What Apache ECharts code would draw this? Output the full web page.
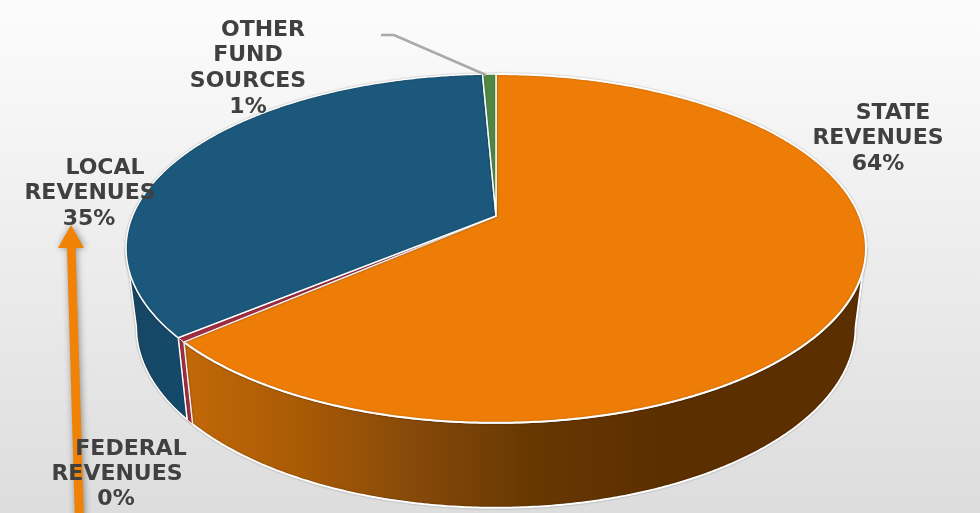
<!DOCTYPE html>
<html>
<head>
<meta charset="utf-8">
<style>html,body{margin:0;padding:0;background:#eee}#chart{width:980px;height:513px}</style>
<script src="https://cdn.jsdelivr.net/npm/echarts@6/dist/echarts.min.js"></script>
</head>
<body>
<div id="chart"></div>
<script>
// Funding sources, percent of total
const categories = ['STATE REVENUES', 'FEDERAL REVENUES', 'LOCAL REVENUES', 'OTHER FUND SOURCES'];
const shares = [63.6, 0.4, 35.3, 0.7];
const topColors = ['#ed7d06', '#a52f42', '#1b587b', '#4f8743'];
const edgeWidths = [2, 1, 1.5, 1.5];

// Label line centres, one row per line of text
const labelRows = [
  [[893, 113], [878, 138], [878, 164]],
  [[131, 449], [117, 474], [116, 499]],
  [[105, 168], [90, 193], [89, 219]],
  [[263, 30], [248, 55], [248, 81], [248, 107]]
];

// Perspective projection of the tilted disc
const CX = 496, APEX_Y = 216, DX = 363.5, DY = 128.2, PERSP = -0.186;
const BOTTOM_SCALE = 0.972, DEPTH = 82, DEPTH_GROW = 0.036;
// Widest points of the disc: the wall is only visible between them
const WALL_FROM = 100.7, WALL_TO = 259.3;

function rim(deg) {
  const t = deg * Math.PI / 180, u = Math.sin(t), v = -Math.cos(t), w = 1 + PERSP * v;
  return [CX + DX * u / w, (DY * v + APEX_Y) / w];
}
function lower(p) {
  return [CX + (p[0] - CX) * BOTTOM_SCALE, p[1] + DEPTH + DEPTH_GROW * (p[1] - 340)];
}
function arc(a0, a1) {
  const pts = [];
  const n = Math.max(2, Math.ceil((a1 - a0) / 0.5));
  for (let i = 0; i <= n; i++) pts.push(rim(a0 + (a1 - a0) * i / n));
  return pts;
}
function sliceRange(i) {
  const total = shares.reduce((a, b) => a + b, 0);
  const before = shares.slice(0, i).reduce((a, b) => a + b, 0);
  return [before / total * 360, (before + shares[i]) / total * 360];
}

const G = echarts.graphic;
const sideFills = [
  new G.LinearGradient(185, 0, 660, 0, [
    { offset: 0, color: '#c26808' }, { offset: 0.25, color: '#a85a05' },
    { offset: 0.5, color: '#84480a' }, { offset: 0.72, color: '#683802' },
    { offset: 1, color: '#5c2f00' }], true),
  '#a52f42',
  new G.LinearGradient(130, 0, 190, 0, [
    { offset: 0, color: '#174663' }, { offset: 1, color: '#144a6c' }], true),
  '#3a6632'
];

function sideItem(params, api) {
  const i = api.value(0);
  const r = sliceRange(i);
  const from = Math.max(r[0], WALL_FROM), to = Math.min(r[1], WALL_TO);
  if (to <= from) return null;
  const top = arc(from, to);
  const bottom = top.map(lower).reverse();
  return {
    type: 'polygon',
    shape: { points: top.concat(bottom) },
    style: {
      fill: sideFills[i], stroke: '#fff', lineWidth: edgeWidths[i], lineJoin: 'round',
      shadowBlur: 2, shadowColor: 'rgba(0,0,0,0.3)'
    }
  };
}
function topItem(params, api) {
  const i = api.value(0);
  const r = sliceRange(i);
  return {
    type: 'polygon',
    shape: { points: [[CX, APEX_Y]].concat(arc(r[0], r[1])) },
    style: {
      fill: topColors[i], stroke: '#fff', lineWidth: edgeWidths[i], lineJoin: 'round',
      shadowBlur: 2, shadowColor: 'rgba(0,0,0,0.25)'
    }
  };
}
function labelItem(params, api) {
  const i = api.value(0);
  const words = categories[i].split(' ');
  const lines = words.concat([Math.round(shares[i]) + '%']);
  return {
    type: 'group',
    children: lines.map((s, k) => ({
      type: 'text',
      x: labelRows[i][k][0],
      y: labelRows[i][k][1],
      style: {
        text: s, align: 'center', verticalAlign: 'middle',
        font: 'bold 22px "DejaVu Sans"', fill: '#404040'
      }
    }))
  };
}

const indexData = categories.map((c, i) => [i]);
const chart = echarts.init(document.getElementById('chart'), null, { renderer: 'canvas' });
chart.setOption({
  animation: false,
  backgroundColor: new G.LinearGradient(0, 0, 0, 1, [
    { offset: 0, color: '#fcfcfc' }, { offset: 1, color: '#dddddd' }]),
  graphic: [
    { // callout arrow beside the local share
      type: 'polygon', z: 0,
      shape: { points: [[71, 225], [84, 248], [75.6, 248], [84, 520], [75, 520], [67, 248], [58, 248]] },
      style: { fill: '#f08205', shadowBlur: 7, shadowColor: 'rgba(0,0,0,0.4)', shadowOffsetX: 1 }
    },
    { // leader line for the smallest slice
      type: 'polyline', z: 10,
      shape: { points: [[381, 35], [394, 35], [486, 75]] },
      style: { stroke: '#a9a9a9', lineWidth: 2.5, fill: null }
    }
  ],
  series: [
    { type: 'custom', coordinateSystem: 'none', data: indexData, renderItem: sideItem, z: 2, silent: true },
    { type: 'custom', coordinateSystem: 'none', data: indexData, renderItem: topItem, z: 3, silent: true },
    { type: 'custom', coordinateSystem: 'none', data: indexData, renderItem: labelItem, z: 5, silent: true }
  ]
});
</script>
</body>
</html>
